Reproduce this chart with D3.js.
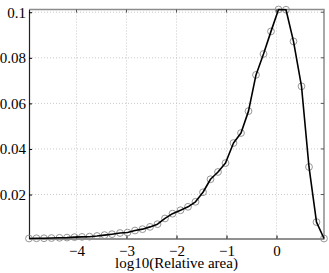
<!DOCTYPE html>
<html>
<head>
<meta charset="utf-8">
<script src="https://cdn.jsdelivr.net/npm/d3@7"></script>
<style>
  body { margin: 0; background: #fff; }
</style>
</head>
<body>
<svg id="chart" width="329" height="273"></svg>
<script>
// log10 of relative area (bin centres)
const logArea = [-4.95, -4.80, -4.65, -4.50, -4.34, -4.19, -4.04, -3.89, -3.74, -3.59,
  -3.44, -3.29, -3.13, -2.98, -2.83, -2.68, -2.53, -2.38, -2.23, -2.08,
  -1.92, -1.77, -1.62, -1.47, -1.32, -1.17, -1.02, -0.86, -0.71, -0.56,
  -0.41, -0.26, -0.11, 0.04, 0.19, 0.34, 0.50, 0.65, 0.80, 0.95];

// frequency for each bin
const freq = [0.0007, 0.0008, 0.0008, 0.0009, 0.0010, 0.0011, 0.0013, 0.0014, 0.0015, 0.0018,
  0.0022, 0.0026, 0.0031, 0.0033, 0.0042, 0.0048, 0.0058, 0.0070, 0.0095, 0.0116,
  0.0131, 0.0146, 0.0168, 0.0210, 0.0267, 0.0299, 0.0338, 0.0426, 0.0470, 0.0566,
  0.0725, 0.0817, 0.0916, 0.1012, 0.1011, 0.0872, 0.0675, 0.0321, 0.0079, 0.0007];

const xTicks = [-4, -3, -2, -1, 0];
const yTicks = [0.02, 0.04, 0.06, 0.08, 0.1];
const xLabel = "log10(Relative area)";

const width = 329;
const height = 273;
const margin = { top: 9.5, right: 5, bottom: 34.5, left: 29 };
const serif = "'Liberation Serif', 'Times New Roman', serif";

const data = logArea.map((x, i) => ({ x: x, y: freq[i] }));

const xScale = d3.scaleLinear()
  .domain(d3.extent(logArea))
  .range([margin.left, width - margin.right]);

const yScale = d3.scaleLinear()
  .domain(d3.extent(freq))
  .range([height - margin.bottom, margin.top]);

const svg = d3.select("#chart");
const x0 = margin.left, x1 = width - margin.right;
const y0 = height - margin.bottom, y1 = margin.top;

// dotted grid
svg.append("g")
  .selectAll("line")
  .data(xTicks)
  .join("line")
  .attr("x1", d => xScale(d)).attr("x2", d => xScale(d))
  .attr("y1", y0).attr("y2", y1)
  .attr("stroke", "#bbb")
  .attr("stroke-width", 0.8)
  .attr("stroke-dasharray", "1,2");

svg.append("g")
  .selectAll("line")
  .data(yTicks)
  .join("line")
  .attr("x1", x0).attr("x2", x1)
  .attr("y1", d => yScale(d)).attr("y2", d => yScale(d))
  .attr("stroke", "#bbb")
  .attr("stroke-width", 0.8)
  .attr("stroke-dasharray", "1,2");

// box: top and right in grey
svg.append("path")
  .attr("d", `M${x0},${y1}H${x1}V${y0}`)
  .attr("fill", "none")
  .attr("stroke", "#8c8c8c")
  .attr("stroke-width", 1.5);

// axes with inward ticks
const xAxis = svg.append("g")
  .attr("transform", `translate(0,${y0})`)
  .attr("font-family", serif)
  .call(d3.axisBottom(xScale).tickValues(xTicks).tickSizeInner(-3).tickSizeOuter(0)
    .tickFormat(d => d3.format("d")(d).replace("-", "\u2212")));
xAxis.select(".domain").attr("stroke", "#222").attr("stroke-width", 1.2);
xAxis.selectAll("text").attr("dy", "0.71em").attr("y", 7)
  .attr("font-family", serif).attr("font-size", 15).attr("fill", "#000");

const yAxis = svg.append("g")
  .attr("transform", `translate(${x0},0)`)
  .attr("font-family", serif)
  .call(d3.axisLeft(yScale).tickValues(yTicks).tickSizeInner(-3).tickSizeOuter(0)
    .tickFormat(d => String(d)));
yAxis.select(".domain").attr("stroke", "#222").attr("stroke-width", 1.2);
yAxis.selectAll("text").attr("x", -3)
  .attr("font-family", serif).attr("font-size", 15).attr("fill", "#000");

// mirrored ticks on right and top
svg.append("g")
  .selectAll("line")
  .data(yTicks)
  .join("line")
  .attr("x1", x1).attr("x2", x1 - 3)
  .attr("y1", d => yScale(d)).attr("y2", d => yScale(d))
  .attr("stroke", "#555");

svg.append("g")
  .selectAll("line")
  .data(xTicks)
  .join("line")
  .attr("x1", d => xScale(d)).attr("x2", d => xScale(d))
  .attr("y1", y1).attr("y2", y1 + 3)
  .attr("stroke", "#555");

// x label
svg.append("text")
  .attr("x", (x0 + x1) / 2)
  .attr("y", 268)
  .attr("text-anchor", "middle")
  .attr("font-family", serif)
  .attr("font-size", 15)
  .text(xLabel);

// markers
svg.append("g")
  .selectAll("circle")
  .data(data)
  .join("circle")
  .attr("cx", d => xScale(d.x))
  .attr("cy", d => yScale(d.y))
  .attr("r", 3.4)
  .attr("fill", "none")
  .attr("stroke", "#8a8a8a")
  .attr("stroke-width", 0.9);

// line
const line = d3.line()
  .x(d => xScale(d.x))
  .y(d => yScale(d.y));

svg.append("path")
  .datum(data)
  .attr("fill", "none")
  .attr("stroke", "#000")
  .attr("stroke-width", 1.6)
  .attr("stroke-linejoin", "round")
  .attr("d", line);
</script>
</body>
</html>
